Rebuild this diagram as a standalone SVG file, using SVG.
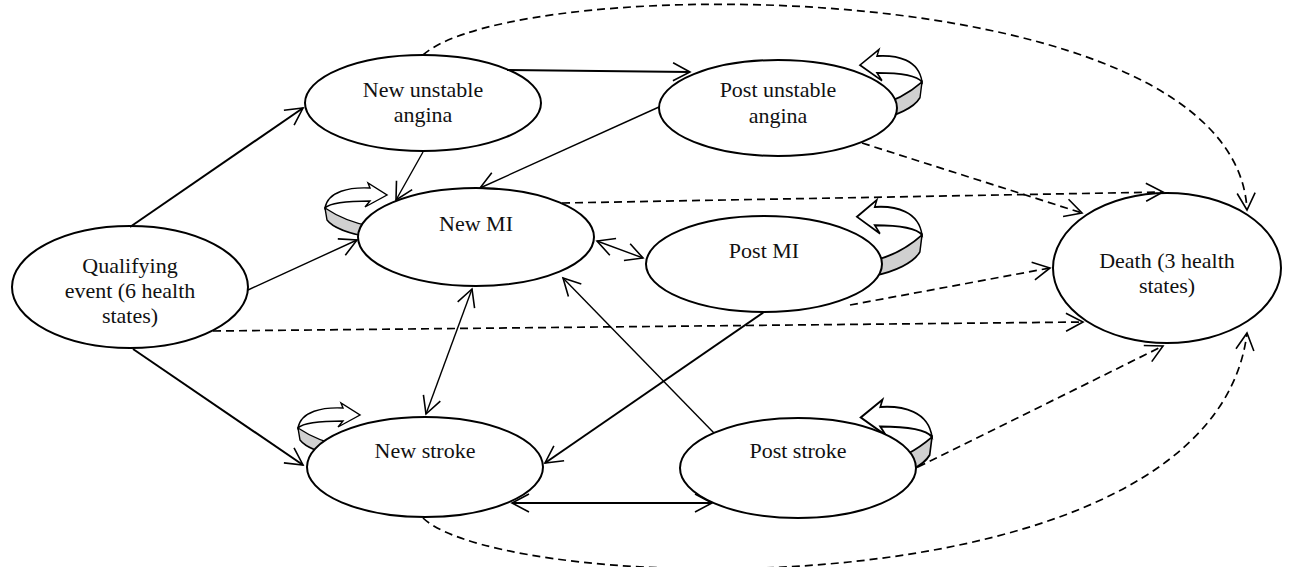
<svg xmlns="http://www.w3.org/2000/svg" xmlns:xlink="http://www.w3.org/1999/xlink" width="1290" height="567" viewBox="0 0 1290 567">
<style>
.node ellipse{fill:#fff;stroke:#000;stroke-width:2}
.node text{font-family:"Liberation Serif","Times New Roman",serif;font-size:22px;fill:#111;text-anchor:middle}
.c{fill:none;stroke:#000;stroke-width:1.4}
.thick{stroke-width:2}
.d{fill:none;stroke:#000;stroke-width:1.7;stroke-dasharray:8 5}
.rib{fill:#fff;stroke:#000;stroke-width:1.4;stroke-linejoin:miter}
.band{fill:#d0d0d0;stroke:#000;stroke-width:1.4}
</style>
<defs>
<marker id="ah" markerUnits="userSpaceOnUse" orient="auto-start-reverse" refX="0" refY="0" markerWidth="20" markerHeight="20" overflow="visible">
<path d="M-17,-9 L0,0 L-17,9" fill="none" stroke="#000" stroke-width="1.6" stroke-dasharray="none"/>
</marker>
<g id="loop">
<path class="band" d="M0,0 C12,8 28,15 45,18 L45,29 C26,26 8,20 2,12 Z"/>
<path class="rib" d="M45,-20 C25,-21 3,-17 0,0 C5,-5 20,-7 45,-7 L40,-1 L62,-13 L43,-25 Z"/>
</g>
</defs>

<g id="loops">
<use xlink:href="#loop" transform="translate(325,208)"/>
<use xlink:href="#loop" transform="translate(298,428)"/>
<use xlink:href="#loop" transform="translate(922,82) scale(-1,1.3)"/>
<use xlink:href="#loop" transform="translate(922,235) scale(-1.05,1.4)"/>
<use xlink:href="#loop" transform="translate(932,437) scale(-1.15,1.5)"/>
</g>

<g id="qualifying" class="node">
<ellipse cx="130" cy="287" rx="118" ry="61"/>
<text x="130" y="273">Qualifying</text>
<text x="130" y="298">event (6 health</text>
<text x="130" y="323">states)</text>
</g>
<g id="new-unstable-angina" class="node">
<ellipse cx="423" cy="103" rx="118" ry="48"/>
<text x="423" y="97">New unstable</text>
<text x="423" y="122">angina</text>
</g>
<g id="post-unstable-angina" class="node">
<ellipse cx="778" cy="108" rx="119" ry="48"/>
<text x="778" y="97">Post unstable</text>
<text x="778" y="123">angina</text>
</g>
<g id="new-mi" class="node">
<ellipse cx="476" cy="237" rx="118" ry="49"/>
<text x="476" y="231">New MI</text>
</g>
<g id="post-mi" class="node">
<ellipse cx="764" cy="264" rx="118" ry="48"/>
<text x="764" y="258">Post MI</text>
</g>
<g id="new-stroke" class="node">
<ellipse cx="425" cy="467" rx="118" ry="50"/>
<text x="425" y="458">New stroke</text>
</g>
<g id="post-stroke" class="node">
<ellipse cx="798" cy="468" rx="118" ry="50"/>
<text x="798" y="458">Post stroke</text>
</g>
<g id="death" class="node">
<ellipse cx="1167" cy="268" rx="114" ry="75"/>
<text x="1167" y="268">Death (3 health</text>
<text x="1167" y="293">states)</text>
</g>

<g id="connectors">
<path class="c thick" d="M130,227 L303,108" marker-end="url(#ah)"/>
<path class="c" d="M248,290 L357,240" marker-end="url(#ah)"/>
<path class="c thick" d="M133,349 L303,465" marker-end="url(#ah)"/>
<path class="d" d="M213,331 L1083,322" marker-end="url(#ah)"/>
<path class="c thick" d="M507,70 L690,72" marker-end="url(#ah)"/>
<path class="c" d="M423,152 L396,200" marker-end="url(#ah)"/>
<path class="c" d="M659,107 L480,188" marker-end="url(#ah)"/>
<path class="d" d="M862,143 L1082,213" marker-end="url(#ah)"/>
<path class="d" d="M562,203 L1163,192" marker-end="url(#ah)"/>
<path class="c" d="M597,241 L643,258" marker-start="url(#ah)" marker-end="url(#ah)"/>
<path class="c" d="M472,289 L426,414" marker-start="url(#ah)" marker-end="url(#ah)"/>
<path class="c thick" d="M764,312 L545,463" marker-end="url(#ah)"/>
<path class="d" d="M850,305 L1050,268" marker-end="url(#ah)"/>
<path class="c" d="M714,433 L563,278" marker-end="url(#ah)"/>
<path class="c thick" d="M512,503 L712,503" marker-start="url(#ah)" marker-end="url(#ah)"/>
<path class="d" d="M918,467 L1163,346" marker-end="url(#ah)"/>
<path class="d" d="M423,55 C515,-28 1235,-30 1247,210" marker-end="url(#ah)"/>
<path class="d" d="M423,518 C505,596 1212,618 1247,333" marker-end="url(#ah)"/>
</g>
</svg>
